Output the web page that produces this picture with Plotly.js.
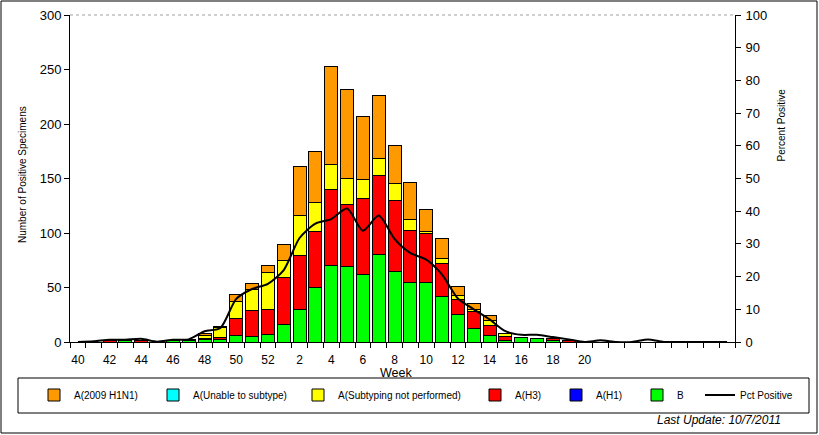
<!DOCTYPE html>
<html>
<head>
<meta charset="utf-8">
<script src="https://cdn.plot.ly/plotly-3.0.1.min.js"></script>
<style>
html,body{margin:0;padding:0;background:#fff;}
#chart{width:819px;height:435px;}
</style>
</head>
<body>
<div id="chart"></div>
<script>
// Weeks of the season (week 40 of 2010 to week 29 of 2011)
var weeks = ["40","41","42","43","44","45","46","47","48","49","50","51","52",
  "1","2","3","4","5","6","7","8","9","10","11","12","13","14","15","16","17","18","19","20",
  "21","22","23","24","25","26","27","28","29"];
var weekLabels = ["40","","42","","44","","46","","48","","50","","52",
  "","2","","4","","6","","8","","10","","12","","14","","16","","18","","20",
  "","","","","","","","",""];

var fluB      = [0,0,0,1,0,0,1,1,2,2,6,5,7, 16,30,50,70,69,62,80,65,55,55,42,25,12,6,1,4,3,1,0,0, 0,0,0,0,0,0,0,0,0];
var fluAH1    = [0,0,0,0,0,0,0,0,0,0,0,0,0, 0,0,0,0,0,0,0,0,0,0,0,0,0,0,0,0,0,0,0,0, 0,0,0,0,0,0,0,0,0];
var fluAH3    = [0,0,1,0,1,0,0,1,1,2,16,24,23, 43,49,51,70,57,70,73,65,47,45,30,14,16,9,4,0,0,2,1,0, 0,0,0,0,0,0,0,0,0];
var fluASNP   = [0,0,0,0,0,0,0,0,3,9,15,19,34, 16,37,27,23,24,17,15,15,10,1,5,4,2,5,3,0,0,0,0,0, 0,0,0,0,0,0,0,0,0];
var fluAUnable= [0,0,0,0,0,0,0,0,0,0,0,0,0, 0,0,0,0,0,0,0,0,0,0,0,0,0,0,0,0,0,0,0,0, 0,0,0,0,0,0,0,0,0];
var fluA2009  = [0,0,0,0,0,0,0,0,2,1,7,6,6, 14,45,47,90,82,58,58,35,34,21,18,8,5,4,0,0,0,0,0,0, 0,0,0,0,0,0,0,0,0];
var pctPositive = [0,0.2,0.7,0.7,1.0,0.1,0.7,0.8,3.3,4.3,13.2,16.2,17.8,
  22.0,31.8,36.2,37.6,40.8,34.0,38.7,31.5,27.2,25.2,20.6,13.3,10.0,6.9,3.3,2.2,2.2,1.5,0.8,0,
  0.5,0,0,0.8,0,0,0,0,0];

var FONT = '"Liberation Sans", Arial, sans-serif';
var L = 70, R = 84, T = 15, B = 93, W = 819, H = 435;
var PW = W - L - R, PH = H - T - B;
function px(x){ return (x - L) / PW; }
function py(y){ return (H - B - y) / PH; }

var barLine = {color:'#000', width:1};
function barTrace(name, vals, color, leg){
  return {type:'bar', name:name, x:weeks, y:vals, legend:leg,
    marker:{color:color, line:barLine}, hoverinfo:'skip'};
}
var traces = [
  barTrace('B', fluB, '#00FF00', 'legend6'),
  barTrace('A(H1)', fluAH1, '#0000FF', 'legend5'),
  barTrace('A(H3)', fluAH3, '#FF0000', 'legend4'),
  barTrace('A(Subtyping not performed)', fluASNP, '#FFFF00', 'legend3'),
  barTrace('A(Unable to subtype)', fluAUnable, '#00FFFF', 'legend2'),
  barTrace('A(2009 H1N1)', fluA2009, '#FF9900', 'legend'),
  {type:'scatter', mode:'lines', name:'Pct Positive', x:weeks, y:pctPositive, yaxis:'y2',
   legend:'legend7', line:{color:'#000', width:2, shape:'spline', smoothing:0.7}, hoverinfo:'skip'}
];

var textStarts = [74,193,338,515,596,677,740];
var legendNames = ['legend','legend2','legend3','legend4','legend5','legend6','legend7'];

var layout = {
  width:W, height:H,
  margin:{l:L, r:R, t:T, b:B, pad:0},
  paper_bgcolor:'#fff', plot_bgcolor:'#fff',
  barmode:'stack', bargap:0.18,
  showlegend:true,
  font:{family:FONT, color:'#000', size:11},
  xaxis:{type:'category', categoryorder:'array', categoryarray:weeks, range:[-0.5, weeks.length-0.5],
    tickmode:'array', tickvals:weeks, ticktext:weekLabels, tickson:'boundaries', tickangle:0,
    ticks:'outside', ticklen:5, tickcolor:'#000', showline:true, linecolor:'#000', linewidth:1,
    showgrid:false, zeroline:false, tickfont:{family:FONT, size:12, color:'#000'}, fixedrange:true,
    ticklabelstandoff:7},
  yaxis:{range:[0,300], dtick:50, tick0:0, ticks:'outside', ticklen:5, tickcolor:'#000',
    showline:true, linecolor:'#000', linewidth:1, showgrid:false, zeroline:false,
    tickfont:{family:FONT, size:13, color:'#000'}, ticklabelstandoff:0},
  yaxis2:{range:[0,100], dtick:10, tick0:0, overlaying:'y', side:'right', ticks:'outside', ticklen:5,
    tickcolor:'#000', showline:true, linecolor:'#000', linewidth:1, showgrid:false, zeroline:false,
    tickfont:{family:FONT, size:13, color:'#000'}, ticklabelstandoff:2},
  shapes:[
    {type:'line', xref:'paper', yref:'paper', x0:0, x1:1, y0:1, y1:1, line:{color:'#a0a0a0', width:1, dash:'dot'}},
    {type:'rect', xref:'paper', yref:'paper', x0:px(18), x1:px(809), y0:py(413), y1:py(378), line:{color:'#000', width:1}},
    {type:'rect', xref:'paper', yref:'paper', x0:px(1), x1:px(817), y0:py(433), y1:py(1), line:{color:'#000', width:1}}
  ],
  annotations:[
    {text:'Week', xref:'paper', yref:'paper', x:px(396), y:py(372.5), xanchor:'center', yanchor:'middle',
      showarrow:false, font:{family:FONT, size:12.5, color:'#000'}},
    {text:'Number of Positive Specimens', xref:'paper', yref:'paper', x:px(22), y:py(175), textangle:-90,
      xanchor:'center', yanchor:'middle', showarrow:false, font:{family:FONT, size:10, color:'#000'}},
    {text:'Percent Positive', xref:'paper', yref:'paper', x:px(781), y:py(125.5), textangle:-90,
      xanchor:'center', yanchor:'middle', showarrow:false, font:{family:FONT, size:10, color:'#000'}},
    {text:'<i>Last Update: 10/7/2011</i>', xref:'paper', yref:'paper', x:px(783), y:py(420),
      xanchor:'right', yanchor:'middle', showarrow:false, font:{family:FONT, size:12, color:'#000'}}
  ]
};
legendNames.forEach(function(n, i){
  layout[n] = {x:px(textStarts[i]-40), y:py(395), xanchor:'left', yanchor:'middle',
    bgcolor:'rgba(0,0,0,0)', borderwidth:0, orientation:'h',
    font:{family:FONT, size:10, color:'#000'}, itemclick:false, itemdoubleclick:false};
});

Plotly.newPlot('chart', traces, layout, {staticPlot:true, displayModeBar:false});
</script>
</body>
</html>
